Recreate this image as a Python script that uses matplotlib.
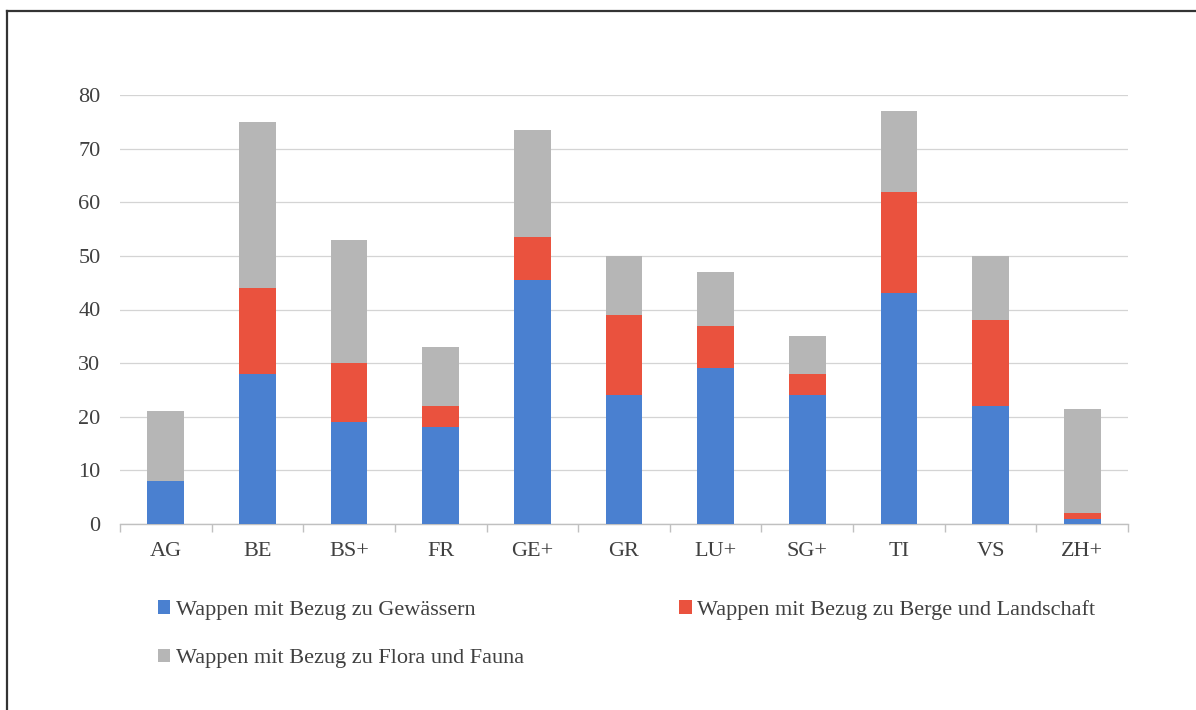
import numpy as np
import matplotlib
matplotlib.use("Agg")
import matplotlib.pyplot as plt
from matplotlib.lines import Line2D

cantons = ["AG", "BE", "BS+", "FR", "GE+", "GR", "LU+", "SG+", "TI", "VS", "ZH+"]
gewaesser = [8, 28, 19, 18, 45.5, 24, 29, 24, 43, 22, 1]
berge = [0, 16, 11, 4, 8, 15, 8, 4, 19, 16, 1]
flora = [13, 31, 23, 11, 20, 11, 10, 7, 15, 12, 19.5]

lab_gew = "Wappen mit Bezug zu Gewässern"
lab_berg = "Wappen mit Bezug zu Berge und Landschaft"
lab_flora = "Wappen mit Bezug zu Flora und Fauna"

c_blue = "#4a80d0"
c_red = "#ea523e"
c_gray = "#b6b6b6"
txt = "#404040"
fs = 16

plt.rcParams["font.family"] = ["Liberation Serif", "DejaVu Serif"]

fig = plt.figure(figsize=(11.96, 7.10), dpi=100)
ax = fig.add_axes([120/1196, 1-524/710, (1128-120)/1196, (524-95)/710])

x = np.arange(len(cantons))
w = 0.40
gew = np.array(gewaesser)
ber = np.array(berge)
flo = np.array(flora)
b1 = ax.bar(x, gew, w, color=c_blue, label=lab_gew, zorder=3)
b2 = ax.bar(x, ber, w, bottom=gew, color=c_red, label=lab_berg, zorder=3)
b3 = ax.bar(x, flo, w, bottom=gew+ber, color=c_gray, label=lab_flora, zorder=3)

ax.set_xlim(-0.5, len(cantons)-0.5)
ax.set_ylim(0, 80)
ax.set_yticks(np.arange(0, 81, 10))
ax.grid(axis="y", color="#d4d4d4", lw=0.9, zorder=0)
for s in ["top", "right", "left"]:
    ax.spines[s].set_visible(False)
ax.spines["bottom"].set_color("#c0c0c0")
ax.spines["bottom"].set_linewidth(1.0)

ax.set_xticks(x)
ax.set_xticklabels(cantons)
ax.set_xticks(np.arange(-0.5, len(cantons), 1), minor=True)
ax.tick_params(axis="x", which="major", length=0, pad=13, labelsize=fs, labelcolor=txt)
ax.tick_params(axis="x", which="minor", length=6, color="#c0c0c0", width=1.0)
ax.tick_params(axis="y", length=0, pad=14, labelsize=fs, labelcolor=txt)

leg = fig.legend([b1, b3, b2], [lab_gew, lab_flora, lab_berg], ncol=2,
                 loc="upper left", bbox_to_anchor=(138/1196, 1-580/710),
                 frameon=False, fontsize=fs, handlelength=0.55, handleheight=0.55,
                 handletextpad=0.25, labelspacing=1.3, columnspacing=7.0)
for t in leg.get_texts():
    t.set_color(txt)

# frame of the scanned page
fig.add_artist(Line2D([7/1196, 7/1196], [0, 1-11/710], color="#333333", lw=1.6))
fig.add_artist(Line2D([7/1196, 1], [1-11/710, 1-11/710], color="#333333", lw=1.6))

fig.savefig("out.png", dpi=100)
